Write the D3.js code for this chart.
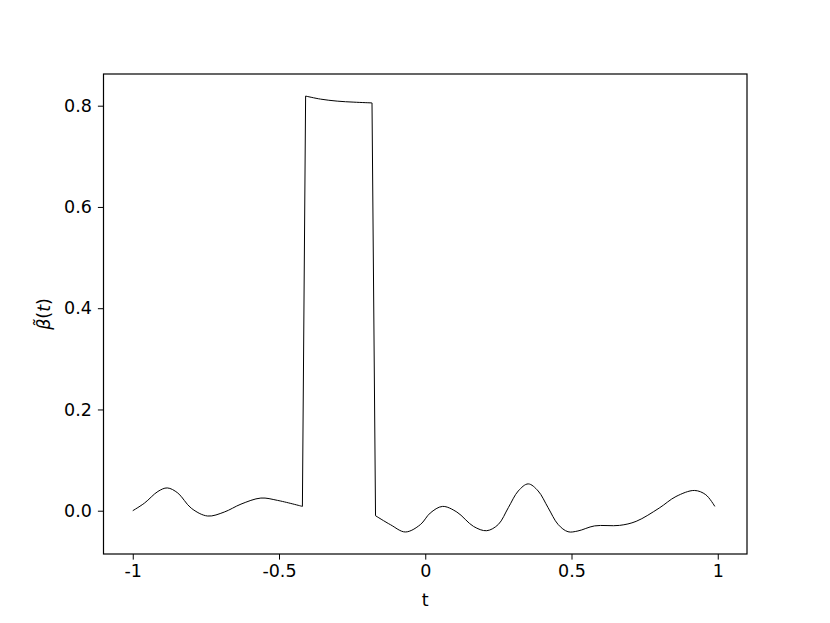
<!DOCTYPE html>
<html>
<head>
<meta charset="utf-8">
<script src="https://cdn.jsdelivr.net/npm/d3@7"></script>
<style>
  body { margin: 0; background: #fff; }
  svg text { font-family: "DejaVu Sans", sans-serif; }
</style>
</head>
<body>
<svg id="chart" width="830" height="623"></svg>
<script>
// values
const tValues = [
    -1.0, -0.96, -0.914, -0.882, -0.846, -0.80, -0.744, -0.687, -0.63, -0.562, -0.505, -0.42,
    -0.409, -0.358, -0.301, -0.244, -0.182,
    -0.17, -0.119, -0.068, -0.017, 0.017, 0.059, 0.108, 0.165, 0.21, 0.25, 0.284, 0.318, 0.352,
    0.386, 0.42, 0.454, 0.488, 0.522, 0.579, 0.664, 0.721, 0.80, 0.857, 0.92, 0.959, 0.99
];
const betaValues = [
    0.0, 0.015, 0.038, 0.045, 0.035, 0.005, -0.0105, -0.0026, 0.013, 0.025, 0.0204, 0.0085,
    0.819, 0.813, 0.809, 0.807, 0.8055,
    -0.0099, -0.0276, -0.042, -0.0276, -0.0046, 0.0085, -0.0026, -0.031, -0.0395, -0.027, 0.006, 0.039, 0.053,
    0.039, 0.006, -0.027, -0.0415, -0.040, -0.030, -0.029, -0.021, 0.0053, 0.028, 0.040, 0.0316, 0.0085
];
const xTicks = [-1, -0.5, 0, 0.5, 1];
const xTickLabels = ['-1', '-0.5', '0', '0.5', '1'];
const yTicks = [0, 0.2, 0.4, 0.6, 0.8];
const yTickLabels = ['0.0', '0.2', '0.4', '0.6', '0.8'];

const svg = d3.select('#chart');
const margin = { left: 103.5, top: 74, right: 83, bottom: 69 };
const W = 830, H = 623;
const fontSize = 17.5;

const x = d3.scaleLinear().domain([-1.1, 1.1]).range([margin.left, W - margin.right]);
const y = d3.scaleLinear().domain([-0.0855, 0.8626]).range([H - margin.bottom, margin.top]);

const points = tValues.map((t, i) => [t, betaValues[i]]);

// split the series at the jumps so smooth parts don't ring
const pieces = [[points[0]]];
for (let i = 1; i < points.length; i++) {
    if (Math.abs(points[i][1] - points[i - 1][1]) > 0.3) pieces.push([]);
    pieces[pieces.length - 1].push(points[i]);
}

const smooth = d3.line().x(d => x(d[0])).y(d => y(d[1])).curve(d3.curveCatmullRom.alpha(0.5));
const straight = d3.line().x(d => x(d[0])).y(d => y(d[1]));

svg.selectAll('path.piece')
    .data(pieces)
    .enter()
    .append('path')
    .attr('class', 'piece')
    .attr('fill', 'none')
    .attr('stroke', '#000')
    .attr('stroke-width', 1)
    .attr('d', smooth);

// the jumps themselves
svg.selectAll('path.jump')
    .data(pieces.slice(1).map((p, i) => [pieces[i][pieces[i].length - 1], p[0]]))
    .enter()
    .append('path')
    .attr('class', 'jump')
    .attr('fill', 'none')
    .attr('stroke', '#000')
    .attr('stroke-width', 1)
    .attr('d', straight);

// minor ticks
const xMinor = d3.range(-10, 11).map(i => i / 10).filter(v => !xTicks.some(t => Math.abs(t - v) < 1e-9));
const yMinor = d3.range(-1, 18).map(i => i / 20).filter(v => !yTicks.some(t => Math.abs(t - v) < 1e-9));

const bottomAxis = svg.append('g').attr('transform', `translate(0,${H - margin.bottom})`);
bottomAxis.call(d3.axisBottom(x).tickValues(xMinor).tickSize(3.5).tickFormat(''));
bottomAxis.call(d3.axisBottom(x).tickValues(xTicks).tickSize(5.6).tickPadding(5)
    .tickFormat((d, i) => xTickLabels[i]));

const leftAxis = svg.append('g').attr('transform', `translate(${margin.left},0)`);
leftAxis.call(d3.axisLeft(y).tickValues(yMinor).tickSize(3.5).tickFormat(''));
leftAxis.call(d3.axisLeft(y).tickValues(yTicks).tickSize(5.6).tickPadding(6)
    .tickFormat((d, i) => yTickLabels[i]));

svg.selectAll('.domain').remove();
svg.selectAll('.tick line').attr('stroke', '#000').attr('stroke-width', 1);
svg.selectAll('.tick text').attr('font-size', fontSize).attr('fill', '#000')
    .style('font-family', '"DejaVu Sans", sans-serif');

// frame
svg.append('rect')
    .attr('x', margin.left).attr('y', margin.top)
    .attr('width', W - margin.right - margin.left)
    .attr('height', H - margin.bottom - margin.top)
    .attr('fill', 'none').attr('stroke', '#000').attr('stroke-width', 1.2);

// axis labels
svg.append('text')
    .attr('x', (margin.left + W - margin.right) / 2)
    .attr('y', 606)
    .attr('text-anchor', 'middle')
    .attr('font-size', fontSize)
    .text('t');

const yLab = svg.append('text')
    .attr('transform', `translate(50,${(margin.top + H - margin.bottom) / 2}) rotate(-90)`)
    .attr('text-anchor', 'middle')
    .attr('font-size', fontSize);
yLab.append('tspan').attr('font-style', 'italic').text('\u03B2\u0303');
yLab.append('tspan').text('(');
yLab.append('tspan').attr('font-style', 'italic').text('t');
yLab.append('tspan').text(')');
</script>
</body>
</html>
